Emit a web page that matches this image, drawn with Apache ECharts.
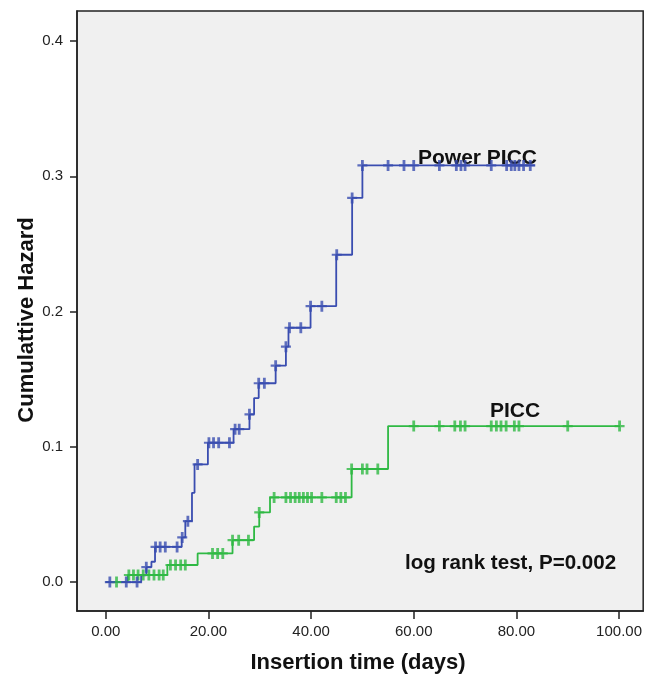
<!DOCTYPE html>
<html>
<head>
<meta charset="utf-8">
<script src="https://cdn.jsdelivr.net/npm/echarts@6/dist/echarts.min.js"></script>
<style>
  html, body { margin: 0; padding: 0; background: #fff; }
  #chart { width: 645px; height: 678px; }
</style>
</head>
<body>
<div id="chart"></div>
<script>
// Power PICC: step times and cumulative hazard after each step
const powerStepX = [0, 6.9, 7.9, 8.9, 9.6, 14.8, 15.5, 16.8, 17.3, 19.9, 24.9, 28.0, 28.9, 29.8, 33.1, 35.1, 35.6, 39.9, 44.9, 48.0, 50.0, 83.6]
const powerStepY = [0, 0.005, 0.011, 0.015, 0.026, 0.033, 0.045, 0.066, 0.087, 0.103, 0.113, 0.124, 0.136, 0.147, 0.160, 0.174, 0.188, 0.204, 0.242, 0.284, 0.308, 0.308]
const powerCensor = [0.8, 4.0, 6.1, 7.9, 9.7, 10.6, 11.6, 13.9, 14.9, 16.0, 17.9, 20.1, 21.0, 22.0, 24.1, 25.2, 26.0, 28.0,
  29.8, 30.9, 33.1, 35.1, 35.8, 38.0, 39.9, 42.1, 45.0, 48.0, 50.0, 55.0, 58.1, 60.0, 65.0, 68.3, 69.2, 70.0,
  75.1, 78.1, 79.0, 79.7, 80.5, 81.4, 82.7]

// PICC
const piccStepX = [0, 4.3, 12.0, 17.9, 24.7, 28.9, 29.9, 32.0, 47.9, 55.0, 100.2]
const piccStepY = [0, 0.0052, 0.0126, 0.0212, 0.031, 0.041, 0.0515, 0.0626, 0.0836, 0.1153, 0.1153]
const piccCensor = [2.1, 4.5, 5.4, 6.3, 7.3, 8.4, 9.4, 10.4, 11.2, 12.6, 13.6, 14.6, 15.5, 20.8, 21.8, 22.8, 24.7, 25.9, 27.8,
  29.9, 32.8, 35.1, 36.0, 36.9, 37.7, 38.5, 39.3, 40.1, 42.1, 44.9, 45.8, 46.7, 47.9, 50.0, 50.9, 53.0,
  60.0, 65.0, 68.0, 69.1, 70.0, 75.1, 76.1, 77.0, 78.0, 79.6, 80.5, 90.0, 100.1]

const xTicks = [0, 20, 40, 60, 80, 100]
const yTicks = [0, 0.1, 0.2, 0.3, 0.4]

const blue = '#3a4db0'
const green = '#2fb944'
// censor mark: thick vertical bar, thinner horizontal bar
const plus = 'path://M3.6,0H6.4V4H10V6H6.4V10H3.6V6H0V4H3.6Z'

const levelAt = (xs, ys, t) => {
  let v = ys[0]
  xs.forEach((x, i) => { if (x <= t + 1e-9) v = ys[i] })
  return v
}
const stepData = (xs, ys) => xs.map((x, i) => [x, ys[i]])
const censorData = (cs, xs, ys) => cs.map(t => [t, levelAt(xs, ys, t)])

const chart = echarts.init(document.getElementById('chart'))

const labelFont = { fontFamily: 'Liberation Sans, Arial, sans-serif', color: '#222' }
const boldFont = size => 'bold ' + size + 'px Liberation Sans, Arial, sans-serif'

chart.setOption({
  backgroundColor: '#fff',
  animation: false,
  grid: {
    left: 77, top: 11, right: 0, bottom: 67,
    show: true,
    backgroundColor: '#f0f0f0',
    borderColor: '#222',
    borderWidth: 1.5
  },
  xAxis: {
    type: 'value',
    min: -5.6,
    max: 104.7,
    splitLine: { show: false },
    axisLine: { onZero: false, lineStyle: { color: '#222', width: 1.5 } },
    axisTick: { customValues: xTicks, length: 8, lineStyle: { color: '#222', width: 1.5 } },
    axisLabel: {
      customValues: xTicks,
      formatter: v => v.toFixed(2),
      fontSize: 15,
      margin: 13,
      ...labelFont
    }
  },
  yAxis: {
    type: 'value',
    min: -0.0214,
    max: 0.4222,
    splitLine: { show: false },
    axisLine: { onZero: false, lineStyle: { color: '#222', width: 1.5 } },
    axisTick: { customValues: yTicks, length: 7, lineStyle: { color: '#222', width: 1.5 } },
    axisLabel: {
      customValues: yTicks,
      formatter: v => v.toFixed(1),
      fontSize: 15,
      margin: 14,
      ...labelFont
    }
  },
  series: [
    {
      name: 'PICC',
      type: 'line',
      step: 'end',
      data: stepData(piccStepX, piccStepY),
      showSymbol: false,
      lineStyle: { color: green, width: 1.8 },
      z: 2
    },
    {
      name: 'Power PICC',
      type: 'line',
      step: 'end',
      data: stepData(powerStepX, powerStepY),
      showSymbol: false,
      lineStyle: { color: blue, width: 1.8 },
      z: 3
    },
    {
      type: 'scatter',
      data: censorData(piccCensor, piccStepX, piccStepY),
      symbol: plus,
      symbolSize: [10, 11],
      itemStyle: { color: green },
      z: 4
    },
    {
      type: 'scatter',
      data: censorData(powerCensor, powerStepX, powerStepY),
      symbol: plus,
      symbolSize: [10, 11],
      itemStyle: { color: blue },
      z: 5
    }
  ],
  graphic: [
    {
      type: 'text', x: 27, y: 320, rotation: Math.PI / 2,
      style: { text: 'Cumulattive Hazard', font: boldFont(22), fill: '#111', textAlign: 'center', textVerticalAlign: 'middle' }
    },
    {
      type: 'text', x: 358, y: 663,
      style: { text: 'Insertion time (days)', font: boldFont(22), fill: '#111', textAlign: 'center', textVerticalAlign: 'middle' }
    },
    {
      type: 'text', x: 418, y: 158,
      style: { text: 'Power PICC', font: boldFont(21), fill: '#111', textVerticalAlign: 'middle' }
    },
    {
      type: 'text', x: 490, y: 411,
      style: { text: 'PICC', font: boldFont(21), fill: '#111', textVerticalAlign: 'middle' }
    },
    {
      type: 'text', x: 405, y: 563,
      style: { text: 'log rank test, P=0.002', font: boldFont(20.6), fill: '#111', textVerticalAlign: 'middle' }
    }
  ]
})
</script>
</body>
</html>
